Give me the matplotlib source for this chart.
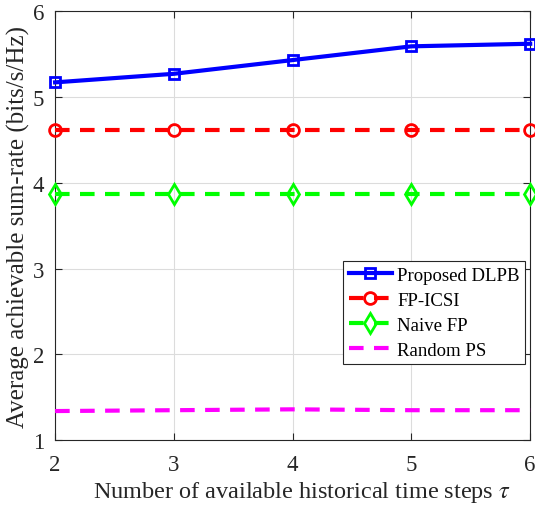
import matplotlib.pyplot as plt

plt.rcParams['font.family'] = ['Liberation Serif', 'DejaVu Serif']
plt.rcParams['mathtext.fontset'] = 'stix'

tau = [2, 3, 4, 5, 6]
dlpb = [5.17, 5.27, 5.43, 5.59, 5.62]
fp_icsi = [4.62, 4.62, 4.62, 4.62, 4.62]
naive_fp = [3.87, 3.87, 3.87, 3.87, 3.87]
random_ps = [1.34, 1.35, 1.36, 1.35, 1.35]

fig = plt.figure(figsize=(5.35, 5.06), dpi=100)
ax = fig.add_axes([0.103, 0.128, 0.888, 0.848])

ax.plot(tau, dlpb, color='#0000ff', lw=3, marker='s', ms=7, mfc='none', mew=2,
        label='Proposed DLPB', clip_on=False, zorder=5)
ax.plot(tau, fp_icsi, color='#ff0000', lw=3, ls=(0, (3.5, 2.5)), marker='o', ms=8.5,
        mfc='none', mew=2, label='FP-ICSI', clip_on=False, zorder=5)
ax.plot(tau, naive_fp, color='#00ff00', lw=3, ls=(0, (3.5, 2.5)), marker='d', ms=10,
        mfc='none', mew=2, label='Naive FP', clip_on=False, zorder=5)
ax.plot(tau, random_ps, color='#ff00ff', lw=3, ls=(0, (3.5, 2.5)),
        label='Random PS', clip_on=False, zorder=5)

ax.set_xlim(2, 6)
ax.set_ylim(1, 6)
ax.set_xticks(tau)
ax.set_yticks([1, 2, 3, 4, 5, 6])
ax.grid(True, color='#dcdcdc', lw=0.8)
ax.set_axisbelow(True)
ax.tick_params(direction='in', top=True, right=True, labelsize=16.5, length=5,
               color='#262626', labelcolor='#262626')
ax.tick_params(axis='x', pad=10)
ax.tick_params(axis='y', pad=8)
for s in ax.spines.values():
    s.set_color('#262626')
    s.set_linewidth(0.8)

ax.set_xlabel(r'Number of available historical time steps $\tau$', fontsize=17.5,
              color='#262626')
ax.xaxis.set_label_coords(0.52, -0.09)
ax.set_ylabel('Average achievable sum-rate (bits/s/Hz)', fontsize=18,
              color='#262626', labelpad=2)

leg = ax.legend(loc='upper right', bbox_to_anchor=(0.99, 0.418), fontsize=13.5,
                fancybox=False, framealpha=1, edgecolor='#262626',
                handlelength=2.3, handletextpad=0.3, borderpad=0.3,
                labelspacing=0.42, borderaxespad=0)
leg.get_frame().set_linewidth(0.8)

fig.savefig('out.png', dpi=100)
